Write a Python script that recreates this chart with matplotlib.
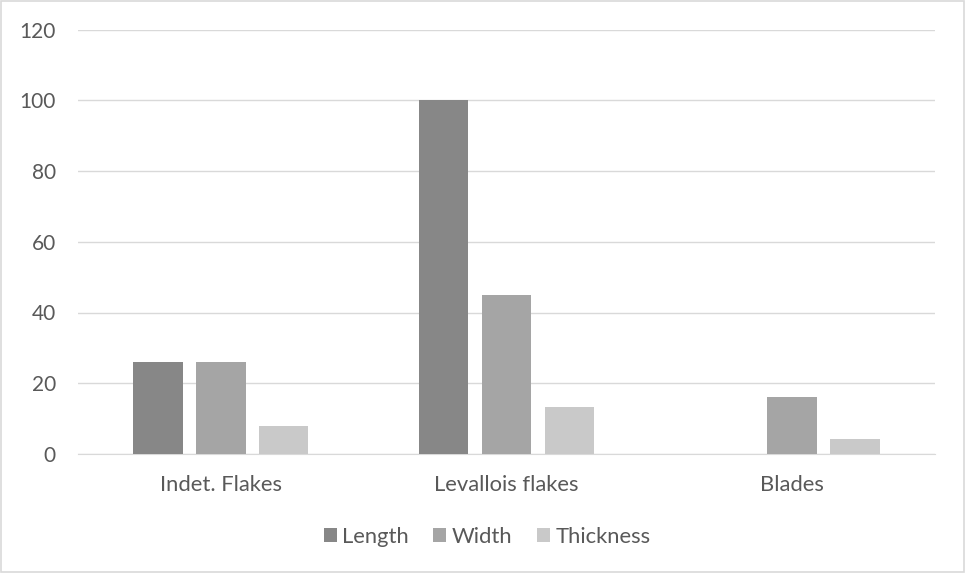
import numpy as np
import matplotlib
matplotlib.use("Agg")
from matplotlib import pyplot as plt

# chart data
categories = ["Indet. Flakes", "Levallois flakes", "Blades"]
length = [26, 100, 0]
width = [26, 45, 16]
thickness = [8, 13.3, 4.2]
series_names = ["Length", "Width", "Thickness"]
colors = ["#878787", "#a5a5a5", "#c9c9c9"]

plt.rcParams['font.family'] = ['Lato', 'DejaVu Sans']
txt = "#595959"
grid = "#d9d9d9"

fig = plt.figure(figsize=(9.65, 5.73), dpi=100)
ax = fig.add_axes([78/965, 119/573, 857/965, 424.5/573])

x = np.arange(len(categories))
bw = 0.173
step = 0.22
for i, (vals, name) in enumerate(zip([length, width, thickness], series_names)):
    ax.bar(x + (i - 1) * step, vals, bw, color=colors[i], label=name, zorder=3)

ax.set_xlim(-0.5, len(categories) - 0.5)
ax.set_ylim(0, 120)
ax.set_yticks(range(0, 121, 20))
ax.set_xticks(x)
ax.set_xticklabels(categories)
ax.yaxis.grid(True, color=grid, linewidth=1, zorder=0)
for s in ["top", "right", "left"]:
    ax.spines[s].set_visible(False)
ax.spines["bottom"].set_color(grid)
ax.tick_params(axis="both", length=0, colors=txt)
ax.tick_params(axis="y", pad=16, labelsize=15)
ax.tick_params(axis="x", pad=15, labelsize=15.8)

leg = fig.legend(loc="center", bbox_to_anchor=(487/965, 1 - 537/573), ncol=3,
                 frameon=False, fontsize=15.8, handlelength=0.6, handleheight=0.6,
                 handletextpad=0.25, columnspacing=1.1)
for t in leg.get_texts():
    t.set_color(txt)

# outer frame
fig.patches.append(plt.Rectangle((0.001, 0.001), 0.998, 0.997, transform=fig.transFigure,
                                 fill=False, edgecolor=grid, linewidth=1.2))

fig.savefig("out.png", dpi=100)
